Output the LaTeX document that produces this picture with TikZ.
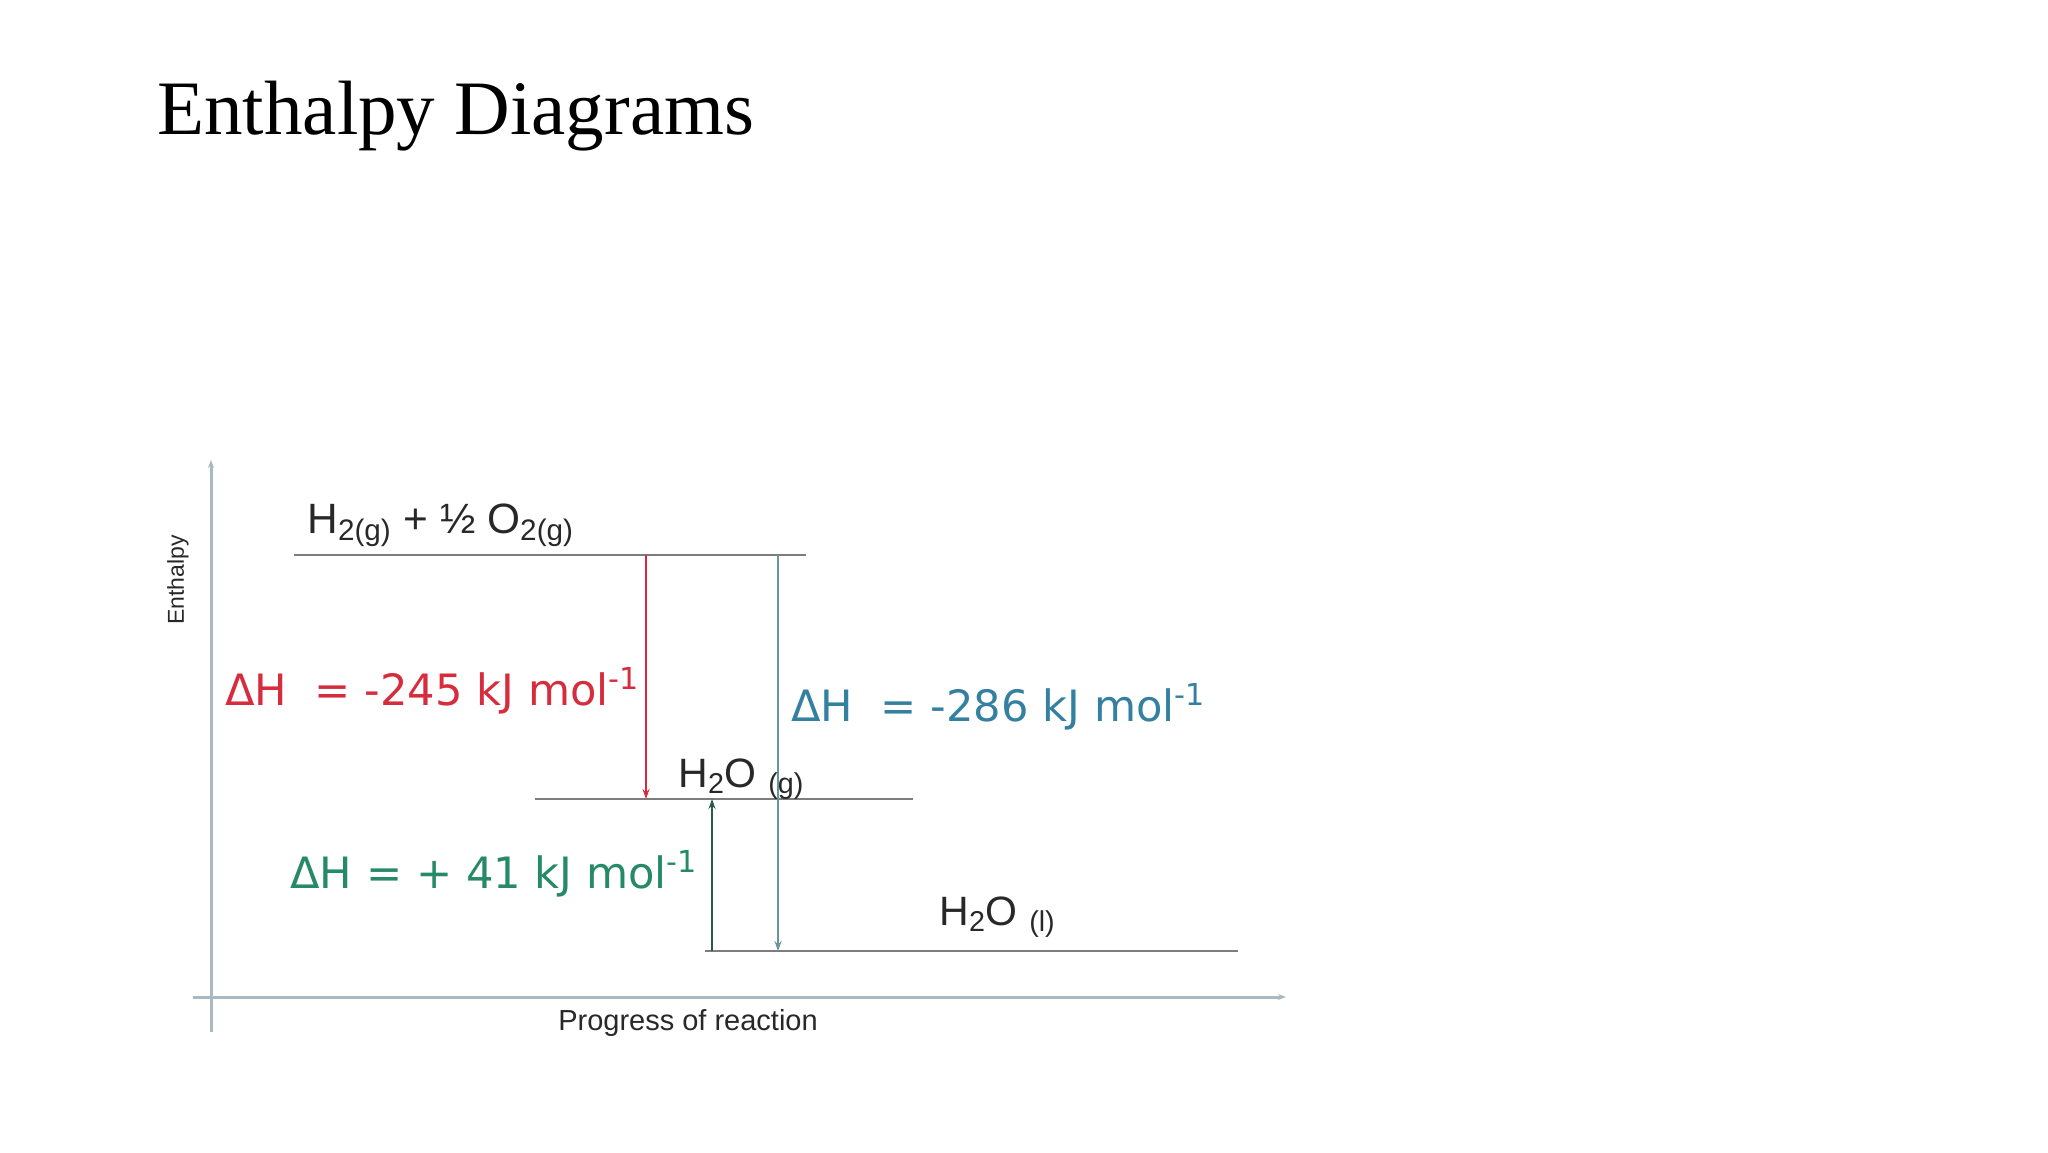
\documentclass[tikz,border=0pt]{standalone}
\usepackage{fontspec}
\setmainfont{Liberation Serif}
\newfontfamily\chemfont{Liberation Sans}
\newfontfamily\dhfont{DejaVu Sans}
\usetikzlibrary{arrows.meta}

\definecolor{axisgray}{RGB}{170,186,196}
\definecolor{levelgray}{RGB}{125,125,125}
\definecolor{dhred}{RGB}{214,45,62}
\definecolor{dhblue}{RGB}{52,128,160}
\definecolor{dhgreen}{RGB}{38,138,104}
\definecolor{arrblue}{RGB}{105,148,160}
\definecolor{arrgreen}{RGB}{40,92,72}
\definecolor{inkgray}{RGB}{40,40,40}

\tikzset{
  axisline/.style={draw=axisgray,line width=1.5pt,-{Stealth[length=4pt,width=3pt]}},
  levelline/.style={draw=levelgray,line width=1.2pt},
  dharrow/.style={line width=0.9pt,-{Stealth[length=5pt,width=3.5pt]}},
  dhlabel/.style={anchor=base west,inner sep=0pt,font=\dhfont\fontsize{21.6}{25}\selectfont},
  chemlabel/.style={anchor=base west,inner sep=0pt,text=inkgray,font=\chemfont\fontsize{20.5}{24}\selectfont}
}

\begin{document}
\begin{tikzpicture}[x=0.5pt,y=0.5pt,yscale=-1,xscale=1]
\useasboundingbox (0,0) rectangle (2048,1152);

% Title
\draw (157,134) node (title) [anchor=base west][inner sep=0pt] {\fontsize{38.5}{44}\selectfont Enthalpy Diagrams};

%Shape: Axes
\coordinate (yaxbot) at (211,1032);
\coordinate (yaxtop) at (211,460);
\coordinate (xaxleft) at (193,997);
\coordinate (xaxright) at (1286,997);
\draw [axisline] (yaxbot) -- (yaxtop);
\draw [axisline] (xaxleft) -- (xaxright);

%Shape: Energy levels
\coordinate (reactL) at (294,555);
\coordinate (reactR) at (806,555);
\coordinate (gasL) at (535,799);
\coordinate (gasR) at (913,799);
\coordinate (liqL) at (705,951);
\coordinate (liqR) at (1238,951);
\draw [levelline] (reactL) -- (reactR);
\draw [levelline] (gasL) -- (gasR);
\draw [levelline] (liqL) -- (liqR);

%Shape: Enthalpy change arrows
\coordinate (redtop) at (646,555);
\coordinate (redbot) at (646,799);
\coordinate (bluetop) at (778,555);
\coordinate (bluebot) at (778,951);
\coordinate (greenbot) at (712,951);
\coordinate (greentop) at (712,799);
\draw [dharrow,draw=dhred] (redtop) -- (redbot);
\draw [dharrow,draw=arrblue] (bluetop) -- (bluebot);
\draw [dharrow,draw=arrgreen] (greenbot) -- (greentop);

% Text Node
\draw (307,533) node (react) [chemlabel,font=\chemfont\fontsize{21.2}{24}\selectfont] {H\textsubscript{2(g)} + ½ O\textsubscript{2(g)}};
% Text Node
\draw (678,787) node (gas) [chemlabel] {H\textsubscript{2}O \textsubscript{(g)}};
% Text Node
\draw (939,925) node (liq) [chemlabel] {H\textsubscript{2}O \textsubscript{(l)}};
% Text Node
\draw (225,705) node (dhred) [dhlabel,text=dhred] {ΔH\ \ = -245 kJ mol\textsuperscript{-1}};
% Text Node
\draw (791,721) node (dhblue) [dhlabel,text=dhblue] {ΔH\ \ = -286 kJ mol\textsuperscript{-1}};
% Text Node
\draw (290,888) node (dhgreen) [dhlabel,text=dhgreen] {ΔH\ = + 41 kJ mol\textsuperscript{-1}};
% Text Node
\draw (688,1023) node (xlabel) [inner sep=0pt,text=inkgray] {\chemfont\fontsize{14.5}{17}\selectfont Progress of reaction};
% Text Node
\draw (178,580) node (ylabel) [rotate=90,inner sep=0pt,text=inkgray] {\chemfont\fontsize{11.5}{14}\selectfont Enthalpy};

\end{tikzpicture}
\end{document}
